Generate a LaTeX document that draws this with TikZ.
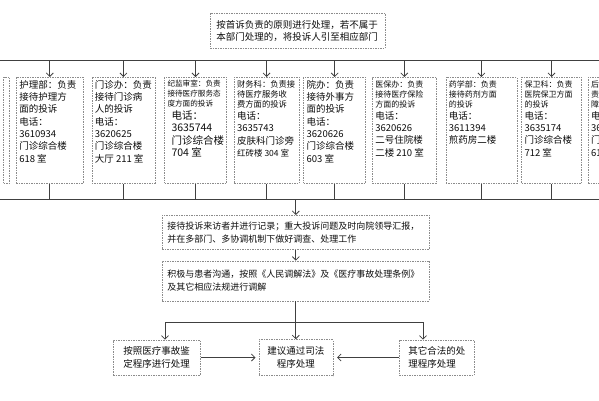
\documentclass[tikz,border=0pt]{standalone}
\usepackage{fontspec}
\newfontfamily\cjk{Noto Sans CJK SC}
\usetikzlibrary{arrows.meta, positioning}
\newcommand{\sz}[2]{\fontsize{#1}{#2}\selectfont}
\newcommand{\hdfont}{\sz{8}{10}}
\newcommand{\bdfont}{\sz{9.5}{12.3}}
\newcommand{\rowcell}[2]{\parbox[c][100pt][t]{#1}{\raggedright #2}}

\begin{document}
\begin{tikzpicture}[
    x=1pt, y=-1pt,
    font=\cjk,
    line/.style={draw=black!75, line width=0.8pt},
    arrow/.style={line, -{Straight Barb[length=3.5pt,width=7pt]}},
    dbox/.style={draw=black!45, line width=0.6pt, dash pattern=on 1.5pt off 1pt, text=black!95},
    rowbox/.style={dbox, inner xsep=3pt, inner ysep=3pt},
    flowbox/.style={dbox, inner xsep=5pt, align=left, minimum width=267pt, text width=257pt},
    endbox/.style={dbox, minimum height=35pt, font={\cjk\sz{9.5}{13}}}
]
\useasboundingbox (0,0) rectangle (599,400);
\clip (0,0) rectangle (599,400);

% first principle
\node (top) [dbox, anchor=north west, inner xsep=6pt, minimum width=175pt, minimum height=35pt, text width=163pt, align=left, font={\cjk\sz{9.5}{12}}] at (210,13) {按首诉负责的原则进行处理，若不属于\\本部门处理的，将投诉人引至相应部门};

% departments
\node (b1) [rowbox, anchor=north west] at (16,77) {\rowcell{61pt}{\bdfont 护理部：负责\\接待护理方\\面的投诉\\电话：\\3610934\\门诊综合楼\\618 室}};
\node (b0) [rowbox, left=6pt of b1] {\rowcell{54pt}{}};
\node (b2) [rowbox, right=8pt of b1] {\rowcell{57pt}{\bdfont 门诊办：负责\\接待门诊病\\人的投诉\\电话：\\3620625\\门诊综合楼\\大厅 211 室}};
\node (b3) [rowbox, right=9pt of b2] {\rowcell{56pt}{{\sz{7.6}{10}纪监审室：负责\\接待医疗服务态\\度方面的投诉\par}{\leftskip=4pt \sz{10.5}{12.5}电话：\\3635744\\门诊综合楼\\704 室\par}}};
\node (b4) [rowbox, right=7pt of b3] {\rowcell{59pt}{{\sz{8.3}{10}财务科：负责接\\待医疗服务收\\费方面的投诉\par}{\bdfont 电话：\\3635743\\皮肤科门诊旁\\{\sz{8.5}{10}红砖楼 304 室}\par}}};
\node (b5) [rowbox, right=4pt of b4] {\rowcell{56pt}{\bdfont 院办：负责\\接待外事方\\面的投诉\\电话：\\3620626\\门诊综合楼\\603 室}};
\node (b6) [rowbox, right=6pt of b5] {\rowcell{58pt}{{\hdfont 医保办：负责\\接待医疗保险\\方面的投诉\par}{\bdfont 电话：\\3620626\\二号住院楼\\二楼 210 室\par}}};
\node (b7) [rowbox, right=9pt of b6] {\rowcell{65pt}{{\hdfont 药学部：负责\\接待药剂方面\\的投诉\par}{\bdfont 电话：\\3611394\\煎药房二楼\par}}};
\node (b8) [rowbox, right=4pt of b7] {\rowcell{54pt}{{\hdfont 保卫科：负责\\医院保卫方面\\的投诉\par}{\bdfont 电话：\\3635174\\门诊综合楼\\712 室\par}}};
\node (b9) [rowbox, right=6pt of b8] {\rowcell{60pt}{{\hdfont 后勤科：负\\责后勤保\\障方面的投诉\par}{\bdfont 电话：\\36\\门诊综合楼\\61\par}}};

\coordinate (topL) at (0,60);
\coordinate (topR) at (599,60);
\coordinate (botL) at (0,199);
\coordinate (botR) at (599,199);
\draw [line] (topL) -- (topR);
\draw [line] (botL) -- (botR);
\foreach \b in {b1,b2,b3,b4,b5,b6,b7,b8} {
    \draw [arrow] (\b.north |- topL) -- (\b.north);
    \draw [line] (\b.south) -- (\b.south |- botL);
}

% handling
\node (m1) [flowbox, anchor=north west, minimum height=34pt, font={\cjk\sz{9}{13}}] at (162,215) {接待投诉来访者并进行记录；重大投诉问题及时向院领导汇报，\\并在多部门、多协调机制下做好调查、处理工作};
\node (m2) [flowbox, below=11pt of m1, minimum height=40pt, font={\cjk\sz{9}{13}}] {积极与患者沟通，按照《人民调解法》及《医疗事故处理条例》\\及其它相应法规进行调解};

\draw [arrow] (m1.north |- botL) -- (m1.north);
\draw [arrow] (m1) -- (m2);

% outcomes
\node (c) [endbox, below=38pt of m2, minimum width=74pt, minimum height=36pt, align=center] {建议通过司法\\程序处理};
\node (bl) [endbox, left=58pt of c, minimum width=87pt, align=left] {按照医疗事故鉴\\定程序进行处理};
\node (br) [endbox, right=66pt of c, minimum width=75pt, align=left] {其它合法的处\\理程序处理};

\coordinate (forkL) at (165,322);
\coordinate (forkR) at (423,322);
\draw [line] (forkL) -- (forkR);
\draw [arrow] (forkL) -- (forkL |- bl.north);
\draw [arrow] (forkR) -- (forkR |- br.north);
\draw [arrow] (m2) -- (c);
\draw [arrow, shorten >=3pt] (bl) -- (c);
\draw [arrow, shorten >=4pt] (br) -- (c);

\end{tikzpicture}
\end{document}
